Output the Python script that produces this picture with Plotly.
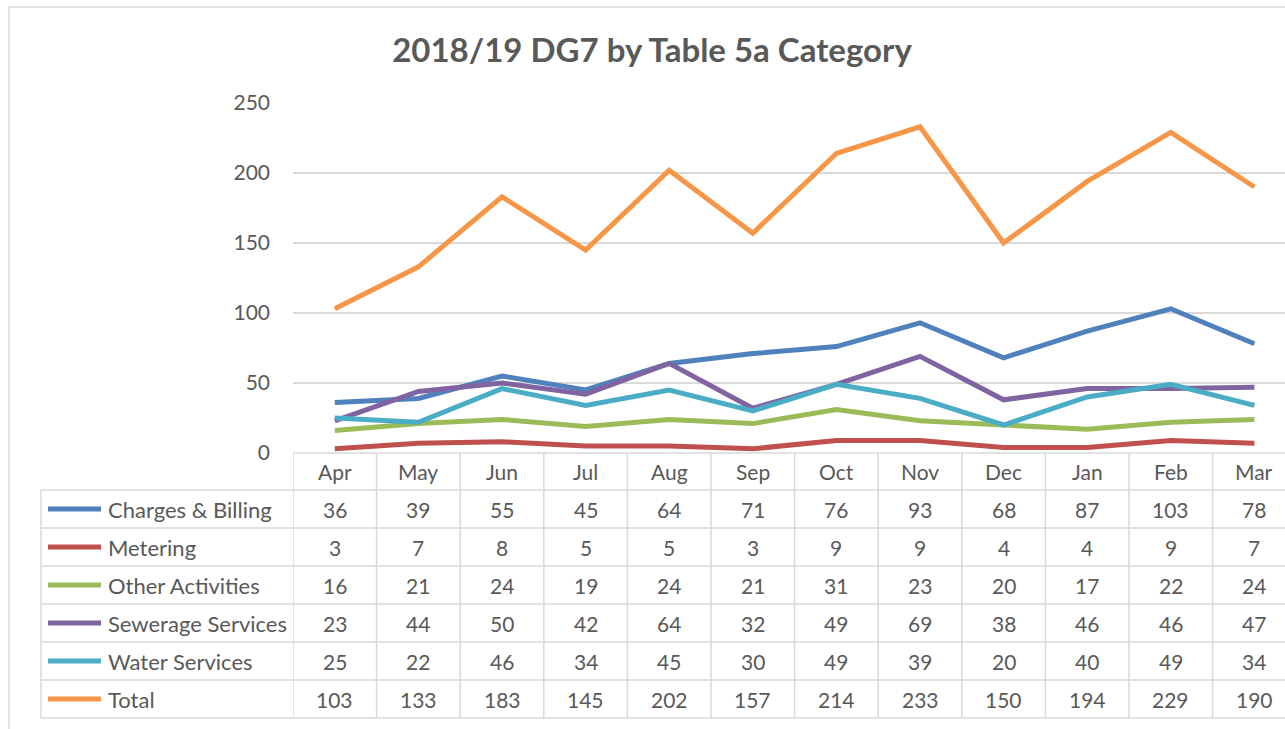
import plotly.graph_objects as go

months = ['Apr', 'May', 'Jun', 'Jul', 'Aug', 'Sep', 'Oct', 'Nov', 'Dec', 'Jan', 'Feb', 'Mar']
charges_billing = [36, 39, 55, 45, 64, 71, 76, 93, 68, 87, 103, 78]
metering = [3, 7, 8, 5, 5, 3, 9, 9, 4, 4, 9, 7]
other_activities = [16, 21, 24, 19, 24, 21, 31, 23, 20, 17, 22, 24]
sewerage_services = [23, 44, 50, 42, 64, 32, 49, 69, 38, 46, 46, 47]
water_services = [25, 22, 46, 34, 45, 30, 49, 39, 20, 40, 49, 34]
total = [103, 133, 183, 145, 202, 157, 214, 233, 150, 194, 229, 190]

series_names = ['Charges & Billing', 'Metering', 'Other Activities',
                'Sewerage Services', 'Water Services', 'Total']
series_values = [charges_billing, metering, other_activities,
                 sewerage_services, water_services, total]
colors = ['#4F81BD', '#C0504D', '#9BBB59', '#8064A2', '#4BACC6', '#F79646']

W, H = 1285, 729
L, T, B = 293, 103, 453          # plot area in pixels
PW, PH = W - L, B - T
GRID = '#d9d9d9'
TXT = '#595959'
FONT = 'Lato'


def px(p):
    return (p - L) / PW


def py(p):
    return (B - p) / PH


fig = go.Figure()
for name, vals, col in zip(series_names, series_values, colors):
    fig.add_trace(go.Scatter(x=months, y=vals, name=name, mode='lines',
                             line=dict(color=col, width=5)))

shapes = []
annotations = []

# chart border (cropped)
shapes.append(dict(type='rect', xref='paper', yref='paper',
                   x0=px(9), x1=px(W + 10), y0=py(7), y1=py(H + 10),
                   line=dict(color=GRID, width=1.5)))

# data table grid
row_top = 490
row_h = 38
for i in range(len(series_names) + 1):
    yy = py(row_top + i * row_h)
    shapes.append(dict(type='line', xref='paper', yref='paper',
                       x0=px(41), x1=px(W + 10), y0=yy, y1=yy,
                       line=dict(color=GRID, width=1.5)))
shapes.append(dict(type='line', xref='paper', yref='paper',
                   x0=0, x1=px(W + 10), y0=0, y1=0,
                   line=dict(color=GRID, width=1.5)))
shapes.append(dict(type='line', xref='paper', yref='paper',
                   x0=px(41), x1=px(41), y0=py(row_top), y1=py(row_top + 6 * row_h),
                   line=dict(color=GRID, width=1.5)))
for k in range(len(months) + 1):
    shapes.append(dict(type='line', xref='x', yref='paper',
                       x0=k - 0.5, x1=k - 0.5, y0=0, y1=py(row_top + 6 * row_h),
                       line=dict(color=GRID, width=1.5)))

# month headers
for m in months:
    annotations.append(dict(x=m, y=py(471), xref='x', yref='paper', text=m,
                            xanchor='center', yanchor='middle',
                            showarrow=False, font=dict(size=21, color=TXT)))

# rows
for i, (name, vals, col) in enumerate(zip(series_names, series_values, colors)):
    cy = py(row_top + row_h / 2 + i * row_h)
    shapes.append(dict(type='line', xref='paper', yref='paper',
                       x0=px(48), x1=px(101), y0=cy, y1=cy,
                       line=dict(color=col, width=5)))
    annotations.append(dict(x=px(106), y=cy, xref='paper', yref='paper', text=name,
                            xanchor='left', yanchor='middle', showarrow=False,
                            font=dict(size=22, color=TXT)))
    for m, v in zip(months, vals):
        annotations.append(dict(x=m, y=cy, xref='x', yref='paper', text=str(v),
                                xanchor='center', yanchor='middle',
                                showarrow=False, font=dict(size=21, color=TXT)))

fig.update_layout(
    width=W, height=H,
    margin=dict(l=L, r=0, t=T, b=H - B),
    paper_bgcolor='white', plot_bgcolor='white',
    showlegend=False,
    font=dict(family=FONT, color=TXT, size=20),
    title=dict(text='<b>2018/19 DG7 by Table 5a Category</b>', x=652 / W, xanchor='center',
               y=1 - 50 / H, yanchor='middle', font=dict(size=33, color=TXT, family=FONT)),
    shapes=shapes,
    annotations=annotations,
)
fig.update_xaxes(type='category', range=[-0.5, -0.5 + PW / 83.6], showticklabels=False,
                 showgrid=False, zeroline=False, showline=False)
fig.update_yaxes(range=[0, 250], tickvals=[0, 50, 100, 150, 200, 250], showgrid=True,
                 gridcolor=GRID, gridwidth=1.5, zeroline=False, showline=False,
                 ticklabelstandoff=22, tickfont=dict(size=21, color=TXT))

fig.write_html('out.html', config={'displayModeBar': False},
               post_script="document.body.style.margin='0';document.body.style.overflow='hidden';")
